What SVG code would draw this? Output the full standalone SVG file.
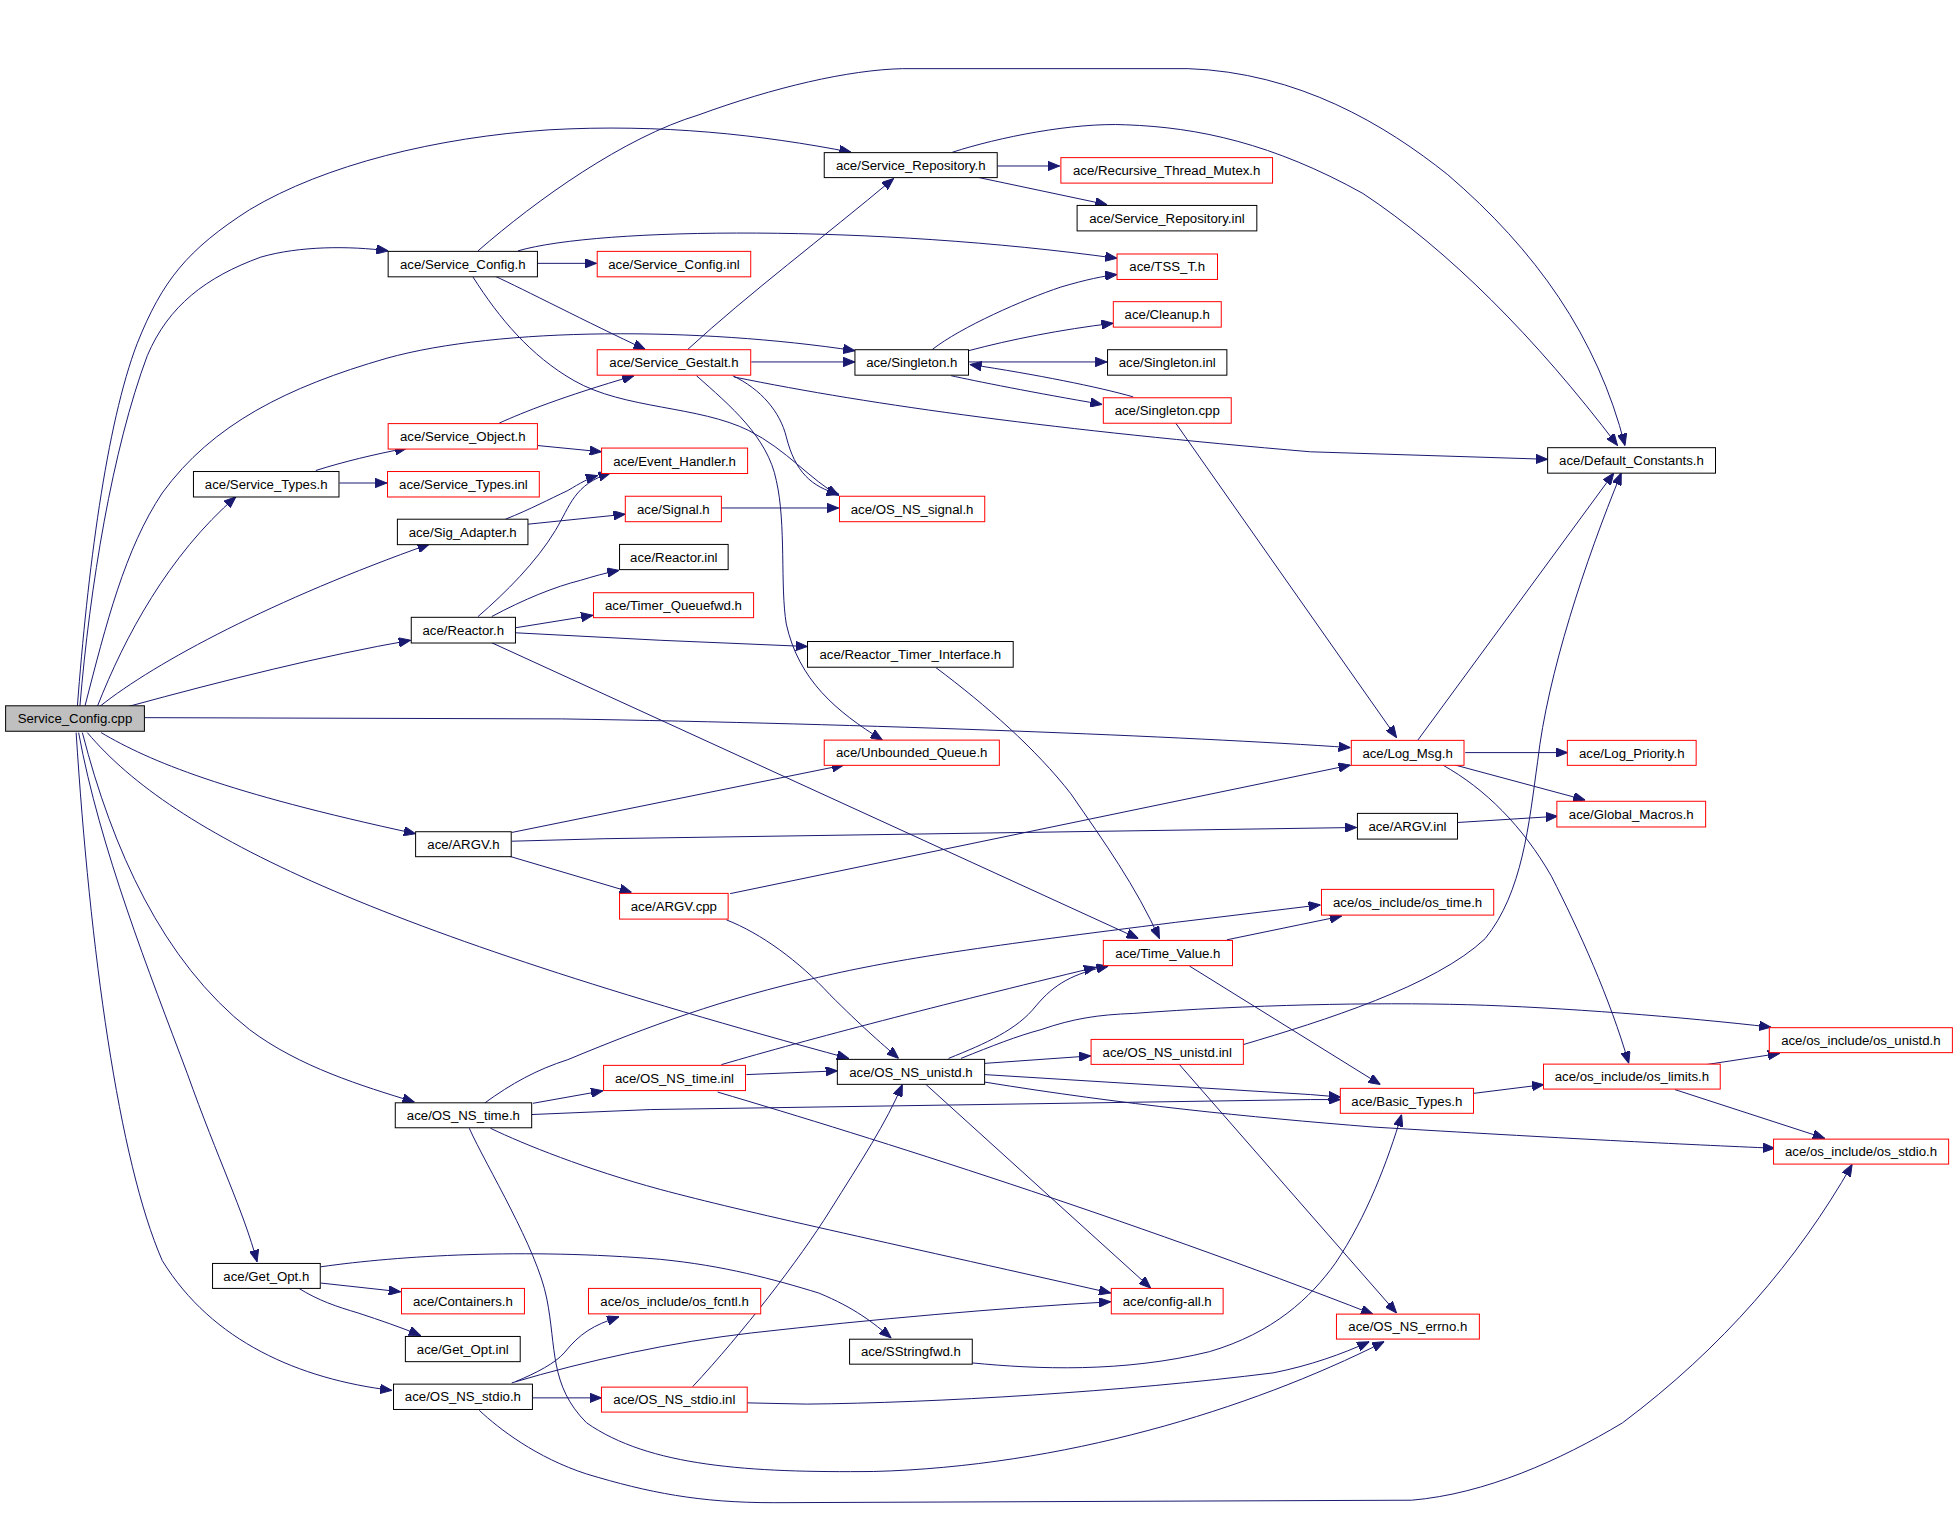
<svg xmlns="http://www.w3.org/2000/svg" width="1957" height="1525" viewBox="0 0 1957 1525">
<style>
.n rect{fill:#fff;stroke:#000;stroke-width:0.8}
.n.r rect{stroke:#f00}
.n.g rect{fill:#bfbfbf}
.n text{font-family:"Liberation Sans",Arial,sans-serif;font-size:10.6px;text-anchor:middle;fill:#000}
#connectors path{fill:none;stroke:#191970;stroke-width:0.8;marker-end:url(#ah)}
</style>
<defs>
<marker id="ah" viewBox="0 0 10 8" refX="10" refY="4" markerWidth="9.5" markerHeight="7.6" markerUnits="userSpaceOnUse" orient="auto">
<path d="M0,0 L10,4 L0,8 Z" fill="#191970" stroke="#191970" stroke-width="0.8"/>
</marker>
</defs>
<rect x="0" y="0" width="1957" height="1525" fill="#fff"/>
<g transform="scale(1.24809)">
<g id="connectors">
<path d="M62,566 C70,460 85,340 110,275 C130,225 150,200 200,168 C260,132 350,110 440,104 C530,99 610,108 682,122"/>
<path d="M64,566 C72,470 90,360 118,285 C135,245 165,222 209,206 C240,197 280,197 311,201"/>
<path d="M68,566 C85,500 100,440 130,395 C170,340 230,310 310,287 C400,262 560,262 685,281"/>
<path d="M78,566 C100,510 135,445 189,398"/>
<path d="M80,566 C125,530 220,480 344,436"/>
<path d="M103,566 C180,545 260,525 329,513"/>
<path d="M116,575 L450,576 C700,580 950,590 1082,599"/>
<path d="M81,587 C120,610 180,635 333,668"/>
<path d="M70,587 C140,670 300,745 680,848"/>
<path d="M66,587 C90,680 130,770 200,825 C240,855 290,870 332,883"/>
<path d="M63,587 C80,680 120,780 150,860 C175,930 195,970 206,1011"/>
<path d="M61,587 C72,760 95,930 130,1010 C170,1075 240,1105 314,1114"/>
<path d="M799,133 L849,133"/>
<path d="M783,142 L887,164"/>
<path d="M763,122 C800,110 860,98 902,100 C960,102 1020,115 1092,155 C1160,200 1230,270 1296,357"/>
<path d="M430,211 L478,211"/>
<path d="M415,201 C480,182 700,180 895,207"/>
<path d="M396,221 C420,232 470,258 517,280"/>
<path d="M379,222 C400,255 425,285 460,305 C500,328 560,325 600,345 C630,360 650,385 672,397"/>
<path d="M383,201 C430,160 500,110 560,92 C620,70 680,56 723,55 L952,55 C1040,58 1110,100 1160,140 C1230,200 1280,270 1302,357"/>
<path d="M747,280 C770,262 820,240 850,230 C870,224 885,221 895,220"/>
<path d="M776,281 C810,272 850,264 892,259"/>
<path d="M776,290 L887,290"/>
<path d="M762,301 C780,305 830,315 883,324"/>
<path d="M908,318 C880,310 830,300 777,292"/>
<path d="M942,339 L1119,591"/>
<path d="M551,280 C600,235 660,190 716,143"/>
<path d="M602,290 L685,290"/>
<path d="M588,302 C700,325 850,345 1050,362 L1240,368"/>
<path d="M587,301 C610,312 625,330 630,350 C637,378 650,390 672,396"/>
<path d="M558,301 C585,325 615,350 622,385 C630,420 625,470 630,500 C640,545 670,570 707,593"/>
<path d="M400,339 C420,330 450,318 508,301"/>
<path d="M431,357 L482,362"/>
<path d="M253,377 C275,370 300,364 326,359"/>
<path d="M272,387 L310,387"/>
<path d="M405,416 C425,408 440,400 455,393 C465,387 472,383 479,381"/>
<path d="M423,420 L501,412"/>
<path d="M578,407 L672,407"/>
<path d="M383,494 C405,475 430,450 445,425 C457,405 460,388 489,379"/>
<path d="M394,494 C420,480 445,470 465,465 C475,462 485,459 496,457"/>
<path d="M413,503 L475,493"/>
<path d="M413,507 L529,513 L647,518"/>
<path d="M394,515 L912,752"/>
<path d="M750,535 C790,565 830,600 858,636 C885,675 910,710 929,752"/>
<path d="M1174,603 L1256,603"/>
<path d="M1166,613 L1270,641"/>
<path d="M1136,593 L1293,379"/>
<path d="M1156,613 C1190,632 1220,662 1243,702 C1265,745 1290,800 1305,852"/>
<path d="M410,667 L676,613"/>
<path d="M410,674 L484,672 L1087,663"/>
<path d="M408,686 L506,715"/>
<path d="M1168,659 L1248,654"/>
<path d="M585,716 L1082,613"/>
<path d="M582,737 C610,748 640,770 665,797 C690,822 705,835 720,848"/>
<path d="M983,753 L1041,741 L1075,734"/>
<path d="M953,774 L1106,869"/>
<path d="M388,884 C410,868 430,857 455,849 C520,822 580,800 656,783 C720,768 790,758 942,739 L1058,725"/>
<path d="M427,884 L483,874"/>
<path d="M426,893 L521,889 L1050,881 L1074,881"/>
<path d="M393,904 C420,917 470,937 529,953 C600,972 700,993 890,1036"/>
<path d="M376,904 C390,935 430,1000 438,1040 C446,1080 440,1110 470,1140 C520,1175 600,1180 700,1179 C850,1175 1000,1130 1109,1075"/>
<path d="M578,853 C650,832 750,806 878,775"/>
<path d="M598,861 L671,858"/>
<path d="M575,875 C700,912 900,975 1100,1053"/>
<path d="M760,848 C790,836 815,825 830,806 C845,788 860,780 888,774"/>
<path d="M770,848 C795,838 815,830 834,825 C860,816 880,813 908,812 C1000,805 1100,803 1176,805 C1250,807 1350,815 1419,823"/>
<path d="M789,852 L874,846"/>
<path d="M789,861 L1050,877 L1074,879"/>
<path d="M789,867 C900,885 1000,895 1100,903 C1250,912 1350,917 1422,920"/>
<path d="M742,869 L922,1032"/>
<path d="M996,837 C1060,818 1150,790 1190,752 C1220,715 1225,660 1232,610 C1240,540 1270,450 1299,379"/>
<path d="M945,853 L1119,1052"/>
<path d="M1367,853 L1426,844"/>
<path d="M1342,873 L1462,912"/>
<path d="M1181,876 L1237,869"/>
<path d="M257,1028 L321,1035"/>
<path d="M239,1032 C255,1042 270,1047 287,1052 C305,1058 320,1063 337,1070"/>
<path d="M257,1015 C320,1006 420,1000 529,1009 C580,1014 620,1025 656,1036 C685,1048 700,1060 714,1072"/>
<path d="M779,1092 C830,1097 900,1100 969,1083 C1020,1068 1050,1040 1070,1012 C1095,975 1112,930 1123,893"/>
<path d="M413,1107 C430,1100 445,1092 452,1084 C465,1068 475,1062 496,1055"/>
<path d="M410,1108 C470,1090 540,1075 602,1068 C700,1057 800,1048 890,1043"/>
<path d="M427,1120 L482,1120"/>
<path d="M384,1130 C400,1145 430,1168 470,1181 C520,1196 560,1204 620,1204 L1131,1202 C1190,1197 1250,1170 1300,1140 C1380,1080 1440,1010 1484,933"/>
<path d="M555,1111 C595,1068 640,1010 665,970 C690,930 710,900 723,869"/>
<path d="M598,1124 L646,1125 C750,1124 900,1115 1020,1100 C1050,1094 1075,1085 1097,1075"/>
</g>
<g id="n1" class="n g"><rect x="4.5" y="565.5" width="111.2" height="20.4"/><text x="60.1" y="579.5">Service_Config.cpp</text></g>
<g id="n2" class="n"><rect x="660.4" y="122.3" width="138.6" height="20"/><text x="729.7" y="136.1">ace/Service_Repository.h</text></g>
<g id="n3" class="n r"><rect x="850" y="126.3" width="169.6" height="20.4"/><text x="934.8" y="140.3">ace/Recursive_Thread_Mutex.h</text></g>
<g id="n4" class="n"><rect x="863" y="164.6" width="144" height="20.4"/><text x="935" y="178.6">ace/Service_Repository.inl</text></g>
<g id="n5" class="n"><rect x="311" y="201.4" width="119.6" height="20.4"/><text x="370.8" y="215.4">ace/Service_Config.h</text></g>
<g id="n6" class="n r"><rect x="478.5" y="201.4" width="123" height="20.4"/><text x="540" y="215.4">ace/Service_Config.inl</text></g>
<g id="n7" class="n r"><rect x="895" y="203.5" width="80.5" height="20.4"/><text x="935.2" y="217.5">ace/TSS_T.h</text></g>
<g id="n8" class="n r"><rect x="892" y="241.7" width="86.5" height="20.4"/><text x="935.2" y="255.7">ace/Cleanup.h</text></g>
<g id="n9" class="n r"><rect x="478.5" y="280.2" width="123" height="20.4"/><text x="540" y="294.2">ace/Service_Gestalt.h</text></g>
<g id="n10" class="n"><rect x="685" y="280.2" width="91" height="20.4"/><text x="730.5" y="294.2">ace/Singleton.h</text></g>
<g id="n11" class="n"><rect x="887.4" y="280.2" width="95.6" height="20.4"/><text x="935.2" y="294.2">ace/Singleton.inl</text></g>
<g id="n12" class="n r"><rect x="884" y="318.7" width="102.5" height="20.4"/><text x="935.2" y="332.7">ace/Singleton.cpp</text></g>
<g id="n13" class="n"><rect x="1240" y="358.7" width="134.5" height="20.4"/><text x="1307.2" y="372.7">ace/Default_Constants.h</text></g>
<g id="n14" class="n r"><rect x="311" y="339.4" width="119.6" height="20.4"/><text x="370.8" y="353.4">ace/Service_Object.h</text></g>
<g id="n15" class="n r"><rect x="482" y="359" width="117" height="20.4"/><text x="540.5" y="373">ace/Event_Handler.h</text></g>
<g id="n16" class="n"><rect x="155" y="377.8" width="116.6" height="20.4"/><text x="213.3" y="391.8">ace/Service_Types.h</text></g>
<g id="n17" class="n r"><rect x="310.5" y="377.8" width="121.6" height="20.4"/><text x="371.3" y="391.8">ace/Service_Types.inl</text></g>
<g id="n18" class="n"><rect x="318.4" y="416" width="104.6" height="20.4"/><text x="370.7" y="430">ace/Sig_Adapter.h</text></g>
<g id="n19" class="n r"><rect x="501" y="397.6" width="77" height="20.4"/><text x="539.5" y="411.6">ace/Signal.h</text></g>
<g id="n20" class="n r"><rect x="672.6" y="397.6" width="116.4" height="20.4"/><text x="730.8" y="411.6">ace/OS_NS_signal.h</text></g>
<g id="n21" class="n"><rect x="496.4" y="436.2" width="87" height="20.2"/><text x="539.9" y="450.1">ace/Reactor.inl</text></g>
<g id="n22" class="n r"><rect x="475.5" y="474.9" width="128.3" height="20"/><text x="539.6" y="488.7">ace/Timer_Queuefwd.h</text></g>
<g id="n23" class="n"><rect x="329.5" y="494.6" width="83.5" height="20.6"/><text x="371.2" y="508.7">ace/Reactor.h</text></g>
<g id="n24" class="n"><rect x="647" y="514" width="164.8" height="20.6"/><text x="729.4" y="528.1">ace/Reactor_Timer_Interface.h</text></g>
<g id="n25" class="n r"><rect x="660.4" y="593" width="140.3" height="20.2"/><text x="730.5" y="606.9">ace/Unbounded_Queue.h</text></g>
<g id="n26" class="n r"><rect x="1082.7" y="593.2" width="90.3" height="20"/><text x="1127.8" y="607">ace/Log_Msg.h</text></g>
<g id="n27" class="n r"><rect x="1255.8" y="593.2" width="103.2" height="20"/><text x="1307.4" y="607">ace/Log_Priority.h</text></g>
<g id="n28" class="n"><rect x="333" y="666.4" width="76.6" height="20"/><text x="371.3" y="680.2">ace/ARGV.h</text></g>
<g id="n29" class="n"><rect x="1087.6" y="651.7" width="80.2" height="20.6"/><text x="1127.7" y="665.8">ace/ARGV.inl</text></g>
<g id="n30" class="n r"><rect x="1247.4" y="642" width="119.2" height="20.6"/><text x="1307" y="656.1">ace/Global_Macros.h</text></g>
<g id="n31" class="n r"><rect x="496.4" y="715.8" width="87" height="20.6"/><text x="539.9" y="729.9">ace/ARGV.cpp</text></g>
<g id="n32" class="n r"><rect x="1058.8" y="712.6" width="138" height="20.6"/><text x="1127.8" y="726.7">ace/os_include/os_time.h</text></g>
<g id="n33" class="n r"><rect x="884" y="753.5" width="103.5" height="20.2"/><text x="935.7" y="767.4">ace/Time_Value.h</text></g>
<g id="n34" class="n r"><rect x="1417.6" y="823.4" width="146.7" height="20"/><text x="1491" y="837.2">ace/os_include/os_unistd.h</text></g>
<g id="n35" class="n r"><rect x="874.2" y="832.8" width="122" height="20"/><text x="935.2" y="846.6">ace/OS_NS_unistd.inl</text></g>
<g id="n36" class="n r"><rect x="483.6" y="853.6" width="113.7" height="20.2"/><text x="540.4" y="867.5">ace/OS_NS_time.inl</text></g>
<g id="n37" class="n"><rect x="670.9" y="848.8" width="118" height="20"/><text x="729.9" y="862.6">ace/OS_NS_unistd.h</text></g>
<g id="n38" class="n r"><rect x="1236.7" y="852.6" width="141.6" height="20"/><text x="1307.5" y="866.4">ace/os_include/os_limits.h</text></g>
<g id="n39" class="n r"><rect x="1073.9" y="872" width="106.7" height="20"/><text x="1127.2" y="885.8">ace/Basic_Types.h</text></g>
<g id="n40" class="n"><rect x="316.7" y="883.6" width="109.3" height="20"/><text x="371.3" y="897.4">ace/OS_NS_time.h</text></g>
<g id="n41" class="n r"><rect x="1421" y="912.7" width="140.3" height="20"/><text x="1491.1" y="926.5">ace/os_include/os_stdio.h</text></g>
<g id="n42" class="n"><rect x="170.3" y="1012.3" width="86.3" height="20"/><text x="213.4" y="1026.1">ace/Get_Opt.h</text></g>
<g id="n43" class="n r"><rect x="321.7" y="1032.3" width="98.5" height="20.4"/><text x="370.9" y="1046.3">ace/Containers.h</text></g>
<g id="n44" class="n r"><rect x="471.5" y="1032.3" width="138" height="20.4"/><text x="540.5" y="1046.3">ace/os_include/os_fcntl.h</text></g>
<g id="n45" class="n r"><rect x="890.4" y="1032.3" width="89.6" height="20.4"/><text x="935.2" y="1046.3">ace/config-all.h</text></g>
<g id="n46" class="n r"><rect x="1070.8" y="1052.9" width="114.5" height="20"/><text x="1128" y="1066.7">ace/OS_NS_errno.h</text></g>
<g id="n47" class="n"><rect x="324.8" y="1070.8" width="92" height="20.2"/><text x="370.8" y="1084.7">ace/Get_Opt.inl</text></g>
<g id="n48" class="n"><rect x="680.7" y="1073" width="98.3" height="20"/><text x="729.8" y="1086.8">ace/SStringfwd.h</text></g>
<g id="n49" class="n"><rect x="315.3" y="1109" width="111.3" height="20.3"/><text x="370.9" y="1122.9">ace/OS_NS_stdio.h</text></g>
<g id="n50" class="n r"><rect x="481.9" y="1111.4" width="116.8" height="20"/><text x="540.3" y="1125.2">ace/OS_NS_stdio.inl</text></g>
</g>
</svg>
